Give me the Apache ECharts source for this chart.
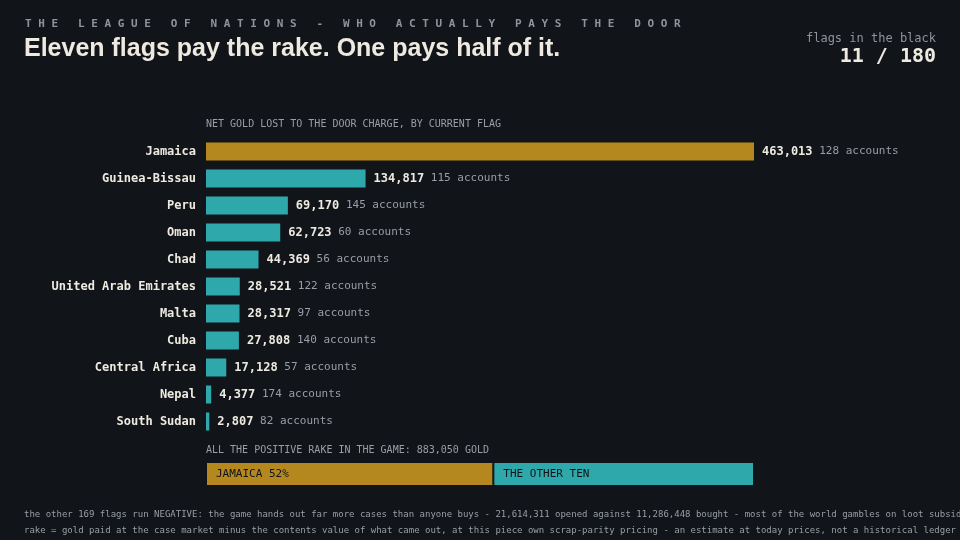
<!DOCTYPE html>
<html>
<head>
<meta charset="utf-8">
<script src="https://cdn.jsdelivr.net/npm/echarts@6/dist/echarts.min.js"></script>
<style>
html, body { margin: 0; padding: 0; background: #111419; }
#chart { width: 960px; height: 540px; }
</style>
</head>
<body>
<div id="chart"></div>
<script>
var countries = ['Jamaica', 'Guinea-Bissau', 'Peru', 'Oman', 'Chad', 'United Arab Emirates', 'Malta', 'Cuba', 'Central Africa', 'Nepal', 'South Sudan'];
var goldLost = [463013, 134817, 69170, 62723, 44369, 28521, 28317, 27808, 17128, 4377, 2807];
var accounts = [128, 115, 145, 60, 56, 122, 97, 140, 57, 174, 82];
var totalRake = 883050;
var jamaicaShare = 463013;
var otherTen = totalRake - jamaicaShare;

var mono = '"DejaVu Sans Mono", monospace';
var gold = '#b5871f';
var teal = '#2fa8ab';

var chart = echarts.init(document.getElementById('chart'));

var option = {
    backgroundColor: '#111419',
    animation: false,
    graphic: [
        { type: 'text', left: 25, top: 19, style: { text: 'THE LEAGUE OF NATIONS - WHO ACTUALLY PAYS THE DOOR'.split('').join(' '), fill: '#8f949b', font: 'bold 11px ' + mono } },
        { type: 'text', left: 24, top: 37, style: { text: 'Eleven flags pay the rake. One pays half of it.', fill: '#eeeae0', font: 'bold 25px "Liberation Sans", "Open Sans", sans-serif' } },
        { type: 'text', right: 24, top: 33, style: { text: 'flags in the black', fill: '#8f949b', font: '12px ' + mono, align: 'right' } },
        { type: 'text', right: 24, top: 47, style: { text: '11 / 180', fill: '#eeeae0', font: 'bold 20px ' + mono, align: 'right' } },
        { type: 'text', left: 206, top: 119, style: { text: 'NET GOLD LOST TO THE DOOR CHARGE, BY CURRENT FLAG', fill: '#9a9fa6', font: '10px ' + mono } },
        { type: 'text', left: 206, top: 445, style: { text: 'ALL THE POSITIVE RAKE IN THE GAME: ' + totalRake.toLocaleString('en-US') + ' GOLD', fill: '#9a9fa6', font: '10px ' + mono } },
        { type: 'text', left: 24, top: 510, style: { text: 'the other 169 flags run NEGATIVE: the game hands out far more cases than anyone buys - 21,614,311 opened against 11,286,448 bought - most of the world gambles on loot subsidy', fill: '#9a9fa6', font: '9px ' + mono } },
        { type: 'text', left: 24, top: 526, style: { text: 'rake = gold paid at the case market minus the contents value of what came out, at this piece own scrap-parity pricing - an estimate at today prices, not a historical ledger', fill: '#9a9fa6', font: '9px ' + mono } }
    ],
    grid: [
        { left: 206, width: 548, top: 138, height: 297 },
        { left: 206, width: 548, top: 462, height: 24 }
    ],
    xAxis: [
        { gridIndex: 0, type: 'value', min: 0, max: jamaicaShare, show: false },
        { gridIndex: 1, type: 'value', min: 0, max: totalRake, show: false }
    ],
    yAxis: [
        {
            gridIndex: 0, type: 'category', data: countries, inverse: true,
            axisLine: { show: false }, axisTick: { show: false },
            axisLabel: { color: '#eeeae0', fontFamily: mono, fontWeight: 'bold', fontSize: 12, margin: 10 }
        },
        { gridIndex: 1, type: 'category', data: ['all'], show: false }
    ],
    series: [
        {
            type: 'bar', xAxisIndex: 0, yAxisIndex: 0, barWidth: 18,
            data: goldLost.map(function (v, i) {
                return { value: v, itemStyle: { color: i === 0 ? gold : teal } };
            }),
            label: {
                show: true, position: 'right', distance: 8,
                formatter: function (p) {
                    return '{v|' + p.value.toLocaleString('en-US') + '}  {a|' + accounts[p.dataIndex] + ' accounts}';
                },
                rich: {
                    v: { color: '#eeeae0', fontFamily: mono, fontWeight: 'bold', fontSize: 12 },
                    a: { color: '#9a9fa6', fontFamily: mono, fontSize: 11 }
                }
            }
        },
        {
            type: 'bar', xAxisIndex: 1, yAxisIndex: 1, stack: 'rake', barWidth: 24,
            data: [jamaicaShare],
            itemStyle: { color: gold, borderColor: '#111419', borderWidth: 1 },
            label: { show: true, position: 'insideLeft', distance: 10, formatter: 'JAMAICA 52%', color: '#111419', fontFamily: mono, fontSize: 11 }
        },
        {
            type: 'bar', xAxisIndex: 1, yAxisIndex: 1, stack: 'rake', barWidth: 24,
            data: [otherTen],
            itemStyle: { color: teal, borderColor: '#111419', borderWidth: 1 },
            label: { show: true, position: 'insideLeft', distance: 10, formatter: 'THE OTHER TEN', color: '#111419', fontFamily: mono, fontSize: 11 }
        }
    ]
};

chart.setOption(option);
</script>
</body>
</html>
